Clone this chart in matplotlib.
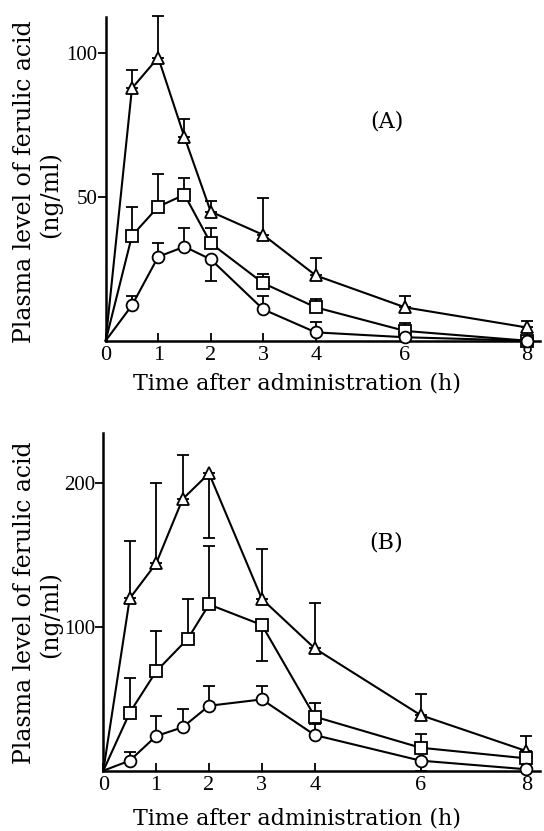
import numpy as np
import matplotlib
matplotlib.use("Agg")
import matplotlib.pyplot as plt

plt.rcParams['font.family'] = ['Liberation Serif', 'DejaVu Serif']

# ---------------- Data ----------------
t_A = [0, 0.5, 1, 1.5, 2, 3, 4, 6, 8]
tri_A = [0, 87.8, 98.5, 70.8, 44.9, 36.8, 22.7, 11.6, 4.6]
tri_A_up = [0, 6.4, 14.3, 6.2, 3.7, 13.0, 6.2, 3.9, 2.2]
tri_A_dn = [0, 0, 0, 0, 0, 0, 0, 0, 0]
sq_A = [0, 36.5, 46.6, 50.8, 33.9, 20.0, 11.6, 3.4, 0]
sq_A_up = [0, 10.1, 11.3, 5.7, 5.2, 3.1, 2.8, 2.6, 0]
sq_A_dn = [0, 0, 0, 0, 0, 0, 0, 0, 0]
ci_A = [0, 12.3, 29.2, 32.7, 28.3, 10.9, 2.9, 1.2, 0]
ci_A_up = [0, 3.4, 4.9, 6.6, 0, 4.8, 3.7, 0, 0]
ci_A_dn = [0, 0, 0, 0, 7.5, 0, 0, 0, 0]

t_B = [0, 0.5, 1, 1.5, 2, 3, 4, 6, 8]
t_B_sq = [0, 0.5, 1, 1.6, 2, 3, 4, 6, 8]
tri_B = [0, 119.9, 144.3, 189.0, 206.9, 119.5, 85.1, 38.7, 13.7]
tri_B_up = [0, 40.1, 55.7, 31.0, 0, 34.5, 31.3, 14.7, 10.7]
tri_B_dn = [0, 0, 0, 0, 45.0, 0, 0, 0, 0]
sq_B = [0, 40.4, 69.1, 91.9, 115.7, 101.4, 37.6, 16.0, 8.6]
sq_B_up = [0, 24.3, 28.1, 27.6, 40.6, 0, 9.7, 9.3, 0]
sq_B_dn = [0, 0, 0, 0, 0, 24.9, 0, 0, 0]
ci_B = [0, 7.0, 24.1, 30.2, 45.2, 49.6, 24.8, 7.0, 1.0]
ci_B_up = [0, 5.8, 14.2, 12.5, 14.0, 9.6, 7.7, 0, 0]
ci_B_dn = [0, 0, 0, 0, 0, 0, 0, 7.0, 0]

x_ticks = [0, 1, 2, 3, 4, 6, 8]
yticks_A = [50, 100]
yticks_B = [100, 200]

ylabel1 = "Plasma level of ferulic acid"
ylabel2 = "(ng/ml)"
xlabel = "Time after administration (h)"

# ---------------- Figure ----------------
W, H = 544, 831
fig = plt.figure(figsize=(W / 100, H / 100), dpi=100)

def ax_rect(left, top, right, bottom):
    return [left / W, 1 - bottom / H, (right - left) / W, (bottom - top) / H]

axA = fig.add_axes(ax_rect(105.7, 16.7, 540, 340.7))
axB = fig.add_axes(ax_rect(103.3, 433.3, 540, 770.7))

# panel A has a non-uniform time axis in the original
kx = [-1, 0, 4, 6, 8, 10]
ku = [-1, 0, 4, 5.70, 8.02, 10.02]
axA.set_xscale('function', functions=(lambda x: np.interp(x, kx, ku),
                                      lambda u: np.interp(u, ku, kx)))

lw = 1.5
def draw(ax, t, y, up, dn, marker, ms):
    cont = ax.errorbar(t[1:], y[1:], yerr=[dn[1:], up[1:]], fmt='none', ecolor='black',
                       elinewidth=1.3, capsize=4.5, capthick=1.3, zorder=2)
    for art in cont.lines[1] + cont.lines[2]:
        art.set_clip_on(False)
    ax.plot(t, y, color='black', lw=lw, marker=marker, markersize=ms,
            markerfacecolor='white', markeredgecolor='black', markeredgewidth=1.3,
            markevery=slice(1, None), zorder=3, clip_on=False)

draw(axA, t_A, tri_A, tri_A_up, tri_A_dn, '^', 8)
draw(axA, t_A, sq_A, sq_A_up, sq_A_dn, 's', 8)
draw(axA, t_A, ci_A, ci_A_up, ci_A_dn, 'o', 8.5)

draw(axB, t_B, tri_B, tri_B_up, tri_B_dn, '^', 8)
draw(axB, t_B_sq, sq_B, sq_B_up, sq_B_dn, 's', 8)
draw(axB, t_B, ci_B, ci_B_up, ci_B_dn, 'o', 8.5)

axA.set_xlim(0, 8.25)
axA.set_ylim(0, 112.7)
axB.set_xlim(0, 8.26)
axB.set_ylim(0, 234.8)

for ax, yt in ((axA, yticks_A), (axB, yticks_B)):
    ax.spines['top'].set_visible(False)
    ax.spines['right'].set_visible(False)
    ax.spines['left'].set_linewidth(1.8)
    ax.spines['bottom'].set_linewidth(1.8)
    ax.set_facecolor('none')
    ax.set_xticks(x_ticks)
    ax.set_xticklabels([str(v) for v in x_ticks])
    ax.set_yticks(yt)
    ax.set_yticklabels([str(v) for v in yt])
    ax.tick_params(axis='x', direction='in', length=6, width=1.3, labelsize=16, pad=4)
    ax.tick_params(axis='y', direction='out', length=6, width=1.3, labelsize=15, pad=0)

lab_font = ['DejaVu Serif']
axA.text(0.648, 0.678, "(A)", transform=axA.transAxes, ha='center', va='center',
         fontsize=16, family=lab_font)
axB.text(0.647, 0.676, "(B)", transform=axB.transAxes, ha='center', va='center',
         fontsize=16, family=lab_font)

fs_ylab = 17
fig.text(25 / W, 1 - 182 / H, ylabel1, rotation=90, ha='center', va='center',
         fontsize=fs_ylab, family=lab_font)
fig.text(50 / W, 1 - 195 / H, ylabel2, rotation=90, ha='center', va='center',
         fontsize=fs_ylab, family=lab_font)
fig.text(25 / W, 1 - 603 / H, ylabel1, rotation=90, ha='center', va='center',
         fontsize=fs_ylab, family=lab_font)
fig.text(50 / W, 1 - 615 / H, ylabel2, rotation=90, ha='center', va='center',
         fontsize=fs_ylab, family=lab_font)

fs_xlab = 16
fig.text(297 / W, 1 - 383 / H, xlabel, ha='center', va='center', fontsize=fs_xlab, family=lab_font)
fig.text(297 / W, 1 - 819 / H, xlabel, ha='center', va='center', fontsize=fs_xlab, family=lab_font)

fig.savefig("out.png", dpi=100, facecolor='white')
